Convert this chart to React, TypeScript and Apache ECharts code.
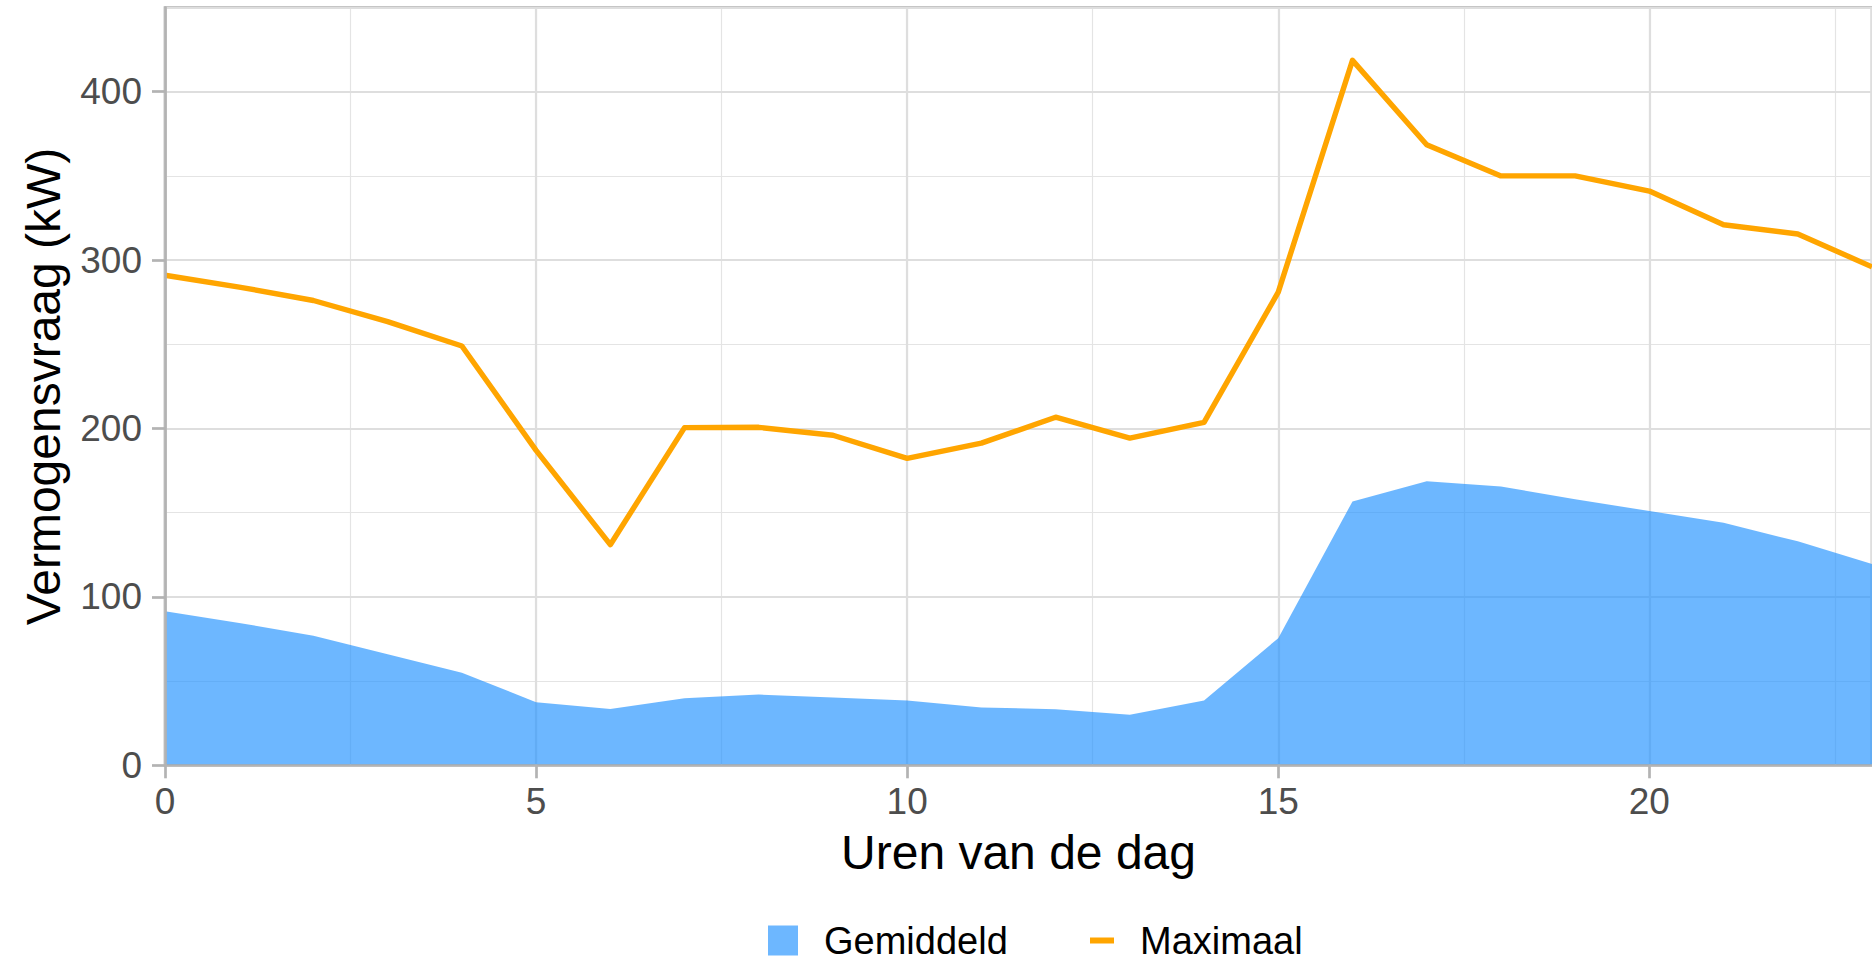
import React, { useEffect, useRef } from 'react';
import * as echarts from 'echarts';

const hours = [0, 1, 2, 3, 4, 5, 6, 7, 8, 9, 10, 11, 12, 13, 14, 15, 16, 17, 18, 19, 20, 21, 22, 23];
const gemiddeld = [91.5, 84.5, 77, 66, 55, 37.5, 33.5, 39.8, 42, 40.2, 38.5, 34.3, 33.3, 30, 38.5, 75.5, 156.7, 168.7, 165.5, 158, 151, 144, 133, 119.5];
const maximaal = [291, 284, 276, 263.5, 249, 187, 131, 200.5, 200.7, 196, 182.3, 191.3, 206.7, 194.3, 203.6, 281, 418.6, 368.5, 350, 350, 341, 321, 315.5, 296];
const xTickValues = [0, 5, 10, 15, 20];
const yTickValues = [0, 100, 200, 300, 400];
const seriesNames = ['Gemiddeld', 'Maximaal'];
const xTitle = 'Uren van de dag';
const yTitle = 'Vermogensvraag (kW)';

export default function App() {
  const ref = useRef<HTMLDivElement>(null);

  useEffect(() => {
    const chart = echarts.init(ref.current as HTMLDivElement, null, { renderer: 'svg' });
    const font = 'Liberation Sans, Arial, Helvetica, sans-serif';
    const borderColor = '#b3b3b3';
    const majorColor = '#dedede';
    const minorColor = '#e4e4e4';
    const xMin = 0, xMax = 23, yMin = 0, yMax = 450;

    const gridAxis = (min: number, max: number, interval: number, color: string, width: number, z: number) => ({
      type: 'value',
      gridIndex: 0,
      min,
      max,
      interval,
      z,
      axisLine: { show: false },
      axisTick: { show: false },
      axisLabel: { show: false },
      splitLine: { show: true, lineStyle: { color, width } },
    });

    const legendText = { fontSize: 38, color: '#000000', fontFamily: font, padding: [0, 0, 0, 21] };

    const option: any = {
      animation: false,
      backgroundColor: '#ffffff',
      textStyle: { fontFamily: font },
      grid: {
        left: 165,
        top: 7.5,
        width: 1713.5,
        height: 757.8,
        show: true,
        borderColor,
        borderWidth: 2.7,
        backgroundColor: 'transparent',
      },
      xAxis: [
        {
          type: 'value',
          gridIndex: 0,
          min: xMin,
          max: xMax,
          interval: 5,
          z: 5,
          name: xTitle,
          nameLocation: 'middle',
          nameGap: 63.4,
          nameTextStyle: { fontSize: 48, color: '#000000', fontFamily: font },
          axisLine: { show: true, onZero: false, lineStyle: { color: borderColor, width: 2.7 } },
          axisTick: { show: true, length: 13, customValues: xTickValues, lineStyle: { color: borderColor, width: 2.7 } },
          axisLabel: { show: true, customValues: xTickValues, margin: 18, fontSize: 37, color: '#4d4d4d', fontFamily: font },
          splitLine: { show: false },
        },
        gridAxis(xMin, xMax, 5, majorColor, 2.2, 1),
        gridAxis(xMin, xMax, 2.5, minorColor, 1.2, 0),
      ],
      yAxis: [
        {
          type: 'value',
          gridIndex: 0,
          min: yMin,
          max: yMax,
          interval: 100,
          z: 5,
          name: yTitle,
          nameLocation: 'middle',
          nameGap: 97.5,
          nameTextStyle: { fontSize: 48, color: '#000000', fontFamily: font },
          axisLine: { show: true, onZero: false, lineStyle: { color: borderColor, width: 2.7 } },
          axisTick: { show: true, length: 13, customValues: yTickValues, lineStyle: { color: borderColor, width: 2.7 } },
          axisLabel: { show: true, customValues: yTickValues, margin: 23, fontSize: 37, color: '#4d4d4d', fontFamily: font },
          splitLine: { show: false },
        },
        gridAxis(yMin, yMax, 100, majorColor, 2.2, 1),
        gridAxis(yMin, yMax, 50, minorColor, 1.2, 0),
      ],
      legend: [
        {
          data: [{ name: seriesNames[0], icon: 'rect' }],
          left: 768,
          top: 921.5,
          padding: 0,
          itemWidth: 30,
          itemHeight: 30,
          itemStyle: { borderWidth: 0 },
          textStyle: legendText,
          selectedMode: false,
        },
        {
          data: [{ name: seriesNames[1], icon: 'rect' }],
          left: 1090,
          top: 921.5,
          padding: 0,
          itemWidth: 24,
          itemHeight: 6,
          itemStyle: { borderWidth: 0 },
          textStyle: legendText,
          selectedMode: false,
        },
      ],
      series: [
        {
          name: seriesNames[0],
          type: 'line',
          xAxisIndex: 0,
          yAxisIndex: 0,
          data: hours.map((h, i) => [h, gemiddeld[i]]),
          symbol: 'none',
          color: 'rgba(30,144,255,0.65)',
          lineStyle: { width: 0 },
          areaStyle: { color: 'rgba(30,144,255,0.65)', opacity: 1 },
          z: 2,
        },
        {
          name: seriesNames[1],
          type: 'line',
          xAxisIndex: 0,
          yAxisIndex: 0,
          data: hours.map((h, i) => [h, maximaal[i]]),
          symbol: 'none',
          color: '#FFA500',
          lineStyle: { width: 5.4, color: '#FFA500', join: 'round', cap: 'butt' },
          z: 3,
        },
      ],
    };

    chart.setOption(option);
    return () => {
      chart.dispose();
    };
  }, []);

  return (
    <div
      ref={ref}
      style={{ position: 'fixed', left: 0, top: 0, width: 1872, height: 963, background: '#ffffff' }}
    />
  );
}
